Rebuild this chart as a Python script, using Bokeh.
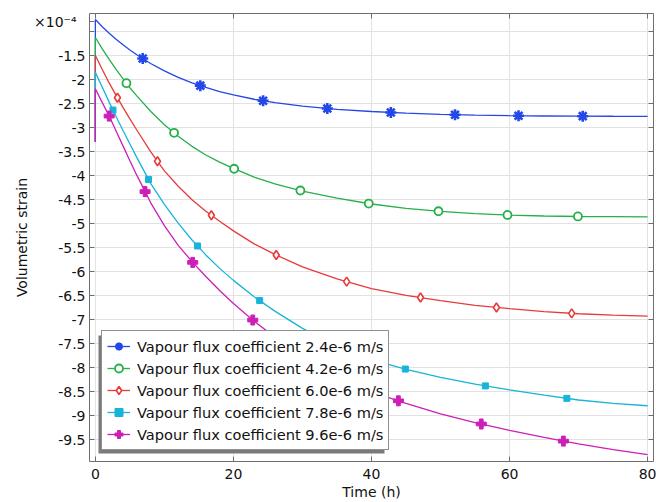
import numpy as np
from bokeh.plotting import figure
from bokeh.models import (Range1d, LinearAxis, FixedTicker, Legend, LegendItem,
                          BoxAnnotation)
from bokeh.embed import file_html
from bokeh.resources import INLINE

# ---------------- data (strain in units of 1e-4) ----------------
time_h = [0, 0, 1, 2, 3, 4, 5, 6, 8, 10, 12, 14, 16, 18, 20, 23, 26, 30, 35, 40,
          45, 50, 55, 60, 65, 70, 75, 80]

strain_24 = [-3.3, -0.75, -0.90, -1.035, -1.16, -1.275, -1.385, -1.485, -1.665, -1.82,
             -1.955, -2.07, -2.165, -2.25, -2.32, -2.41, -2.48, -2.555, -2.62, -2.665,
             -2.70, -2.725, -2.742, -2.752, -2.758, -2.762, -2.764, -2.765]
strain_42 = [-3.3, -1.125, -1.36, -1.58, -1.79, -1.98, -2.17, -2.34, -2.66, -2.94,
             -3.18, -3.39, -3.57, -3.72, -3.85, -4.03, -4.17, -4.32, -4.47, -4.59,
             -4.68, -4.745, -4.79, -4.82, -4.84, -4.85, -4.855, -4.86]
strain_60 = [-3.3, -1.50, -1.79, -2.07, -2.33, -2.58, -2.82, -3.05, -3.50, -3.90,
             -4.22, -4.50, -4.74, -4.95, -5.15, -5.42, -5.64, -5.90, -6.15, -6.35,
             -6.49, -6.60, -6.70, -6.77, -6.83, -6.875, -6.905, -6.925]
strain_78 = [-3.3, -1.85, -2.16, -2.47, -2.77, -3.06, -3.34, -3.62, -4.16, -4.60,
             -4.99, -5.34, -5.65, -5.93, -6.18, -6.52, -6.82, -7.18, -7.55, -7.83,
             -8.03, -8.20, -8.34, -8.46, -8.57, -8.67, -8.74, -8.79]
strain_96 = [-3.3, -2.19, -2.48, -2.76, -3.07, -3.38, -3.69, -3.99, -4.56, -5.04,
             -5.45, -5.79, -6.10, -6.39, -6.66, -7.03, -7.36, -7.76, -8.18, -8.50,
             -8.74, -8.96, -9.14, -9.30, -9.45, -9.585, -9.705, -9.805]

# marker times (h)
marks_24 = [6.86, 15.2, 24.3, 33.6, 42.8, 52.1, 61.3, 70.6]
marks_42 = [4.5, 11.4, 20.1, 29.7, 39.6, 49.7, 59.7, 69.9]
marks_60 = [3.2, 9.0, 16.8, 26.2, 36.4, 47.1, 58.1, 69.0]
marks_78 = [2.55, 7.7, 14.8, 23.8, 34.2, 44.9, 56.5, 68.3]
marks_96 = [2.0, 7.2, 14.1, 22.8, 33.3, 43.9, 55.9, 67.8]

labels = ["Vapour flux coefficient 2.4e-6 m/s",
          "Vapour flux coefficient 4.2e-6 m/s",
          "Vapour flux coefficient 6.0e-6 m/s",
          "Vapour flux coefficient 7.8e-6 m/s",
          "Vapour flux coefficient 9.6e-6 m/s"]

x_ticks = [0, 20, 40, 60, 80]
y_ticks = [-9.5, -9, -8.5, -8, -7.5, -7, -6.5, -6, -5.5, -5, -4.5, -4, -3.5, -3,
           -2.5, -2, -1.5, -1]
y_tick_labels = ["-9.5", "-9", "-8.5", "-8", "-7.5", "-7", "-6.5", "-6", "-5.5", "-5",
                 "-4.5", "-4", "-3.5", "-3", "-2.5", "-2", "-1.5", ""]
# scale factor note shown at the top of the y axis
y_scale_pos = -0.80
y_scale_text = "×10⁻⁴\u00a0\u00a0"

# ---------------- styles ----------------
FONT = "DejaVu Sans"
colors = ["#2448e8", "#25b04a", "#e83a3a", "#18b4d8", "#cc1fb8"]
styles = [
    dict(marker="asterisk", size=11, line_width=2.6, fill_color=None),
    dict(marker="circle", size=8, line_width=1.8, fill_color="white"),
    dict(marker="diamond", size=9, line_width=1.6, fill_color="white"),
    dict(marker="square", size=6, line_width=1, fill_color="same"),
    dict(marker="plus", size=10, line_width=1, fill_color="same"),
]

p = figure(width=656, height=502, output_backend="svg", toolbar_location=None,
           x_range=Range1d(-0.85, 80.85), y_range=Range1d(-9.95, -0.625),
           min_border_left=89, min_border_right=3, min_border_top=13,
           min_border_bottom=41)
p.background_fill_color = "white"
p.border_fill_color = "white"
p.outline_line_color = None

AX = "#6e6e6e"


def style_axis(ax, show_labels=True):
    ax.axis_line_color = AX
    ax.axis_line_width = 1
    ax.major_tick_line_color = AX
    ax.major_tick_in = 5
    ax.major_tick_out = 0
    ax.minor_tick_line_color = None
    ax.major_label_text_font = FONT
    ax.major_label_text_font_size = "14px" if show_labels else "1px"
    ax.major_label_text_color = "#111111"
    ax.axis_label_text_font = FONT
    ax.axis_label_text_font_size = "14px"
    ax.axis_label_text_font_style = "normal"
    ax.axis_label_text_color = "#111111"


xa = p.xaxis[0]
ya = p.yaxis[0]
xa.ticker = FixedTicker(ticks=x_ticks)
ya.ticker = FixedTicker(ticks=y_ticks + [y_scale_pos])
ov = {t: s for t, s in zip(y_ticks, y_tick_labels)}
ov[y_scale_pos] = y_scale_text
ya.major_label_overrides = ov
style_axis(xa)
style_axis(ya)
xa.axis_label = "Time (h)"
ya.axis_label = "Volumetric strain"
xa.major_label_standoff = 7
xa.axis_label_standoff = 2
ya.major_label_standoff = 4
ya.axis_label_standoff = 1

top_ax = LinearAxis(ticker=FixedTicker(ticks=x_ticks))
top_ax.major_label_overrides = {t: "" for t in x_ticks}
style_axis(top_ax, False)
top_ax.major_label_standoff = 0
right_ax = LinearAxis(ticker=FixedTicker(ticks=y_ticks))
right_ax.major_label_overrides = {t: "" for t in y_ticks}
style_axis(right_ax, False)
right_ax.major_label_standoff = 0
p.add_layout(top_ax, "above")
p.add_layout(right_ax, "right")

p.xgrid.ticker = FixedTicker(ticks=x_ticks)
p.ygrid.ticker = FixedTicker(ticks=y_ticks)
p.grid.grid_line_color = "#e2e2e2"
p.grid.grid_line_width = 1

series = [strain_24, strain_42, strain_60, strain_78, strain_96]
marks = [marks_24, marks_42, marks_60, marks_78, marks_96]

items = []
for vals, mk, col, st, lab in zip(series, marks, colors, styles, labels):
    lr = p.line(time_h, vals, line_color=col, line_width=1.3)
    my = np.interp(mk, time_h[1:], vals[1:])
    fc = col if st["fill_color"] == "same" else st["fill_color"]
    sr = p.scatter(mk, my, marker=st["marker"], size=st["size"], line_color=col,
                   line_width=st["line_width"], fill_color=fc)
    items.append(LegendItem(label=lab, renderers=[lr, sr]))

# legend geometry (screen px, relative to the plot frame's bottom-left corner)
LEG_X, LEG_Y = 12, 11
PAD, GW, GH, LH, SP, STAND, LW = 5, 23, 20, 20, 2, 7, 246
leg_w = 2 * PAD + GW + STAND + LW
leg_h = 2 * PAD + 5 * max(GH, LH) + 4 * SP

# drop shadow behind the legend
p.add_layout(BoxAnnotation(left=LEG_X - 3, right=LEG_X - 3 + leg_w,
                           bottom=LEG_Y - 3, top=LEG_Y - 3 + leg_h,
                           left_units="screen", right_units="screen",
                           bottom_units="screen", top_units="screen",
                           fill_color="#7a7a7a", fill_alpha=1.0, line_color=None))

legend = Legend(items=items, location=(LEG_X, LEG_Y), label_text_font=FONT,
                label_text_font_size="14.6px", glyph_width=GW, glyph_height=GH,
                label_height=LH, label_width=LW, spacing=SP, padding=PAD,
                label_standoff=STAND, margin=0, border_line_width=1,
                border_line_color="#222222", background_fill_color="white",
                background_fill_alpha=1.0, label_text_color="#111111")
p.add_layout(legend, "center")

open("out.html", "w").write(file_html(p, INLINE))
